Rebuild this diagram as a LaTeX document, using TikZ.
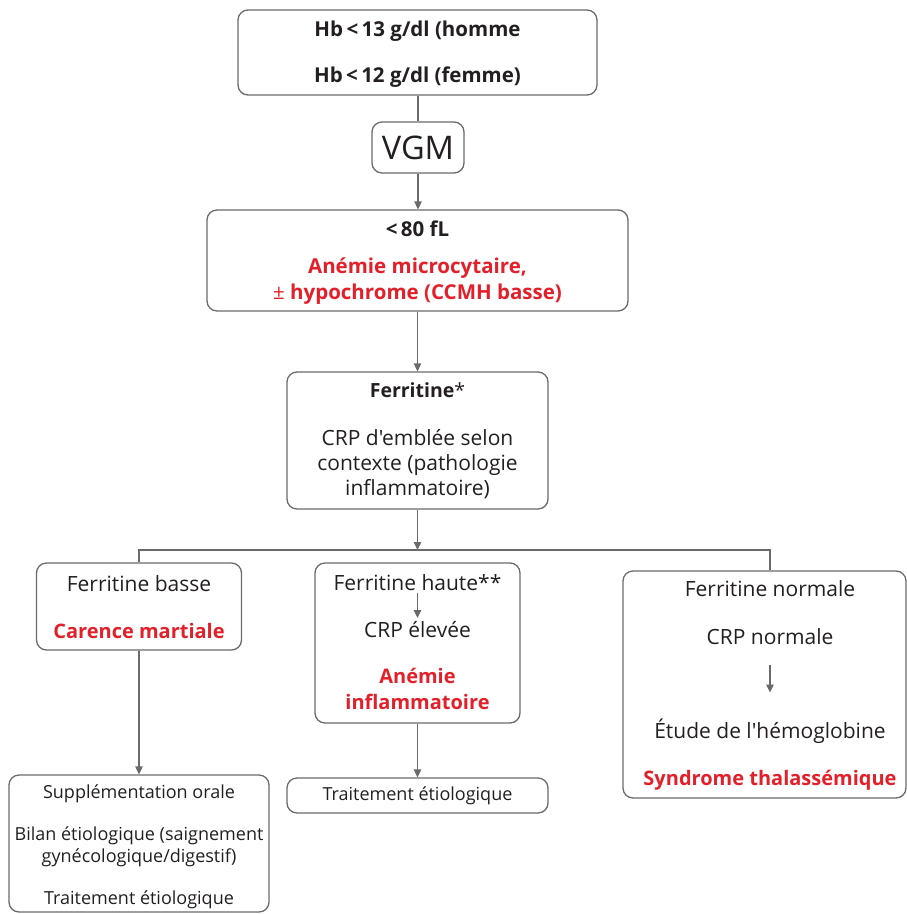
\documentclass[tikz,border=0pt]{standalone}
\usepackage{fontspec}
\setmainfont{Open Sans}[Ligatures=TeXOff]
\usetikzlibrary{arrows.meta}
\definecolor{ink}{HTML}{231F20}
\definecolor{alert}{HTML}{E3202A}
\definecolor{edge}{HTML}{6A6A6A}
\begin{document}
\begin{tikzpicture}[x=1pt,y=-1pt,
  box/.style={draw=edge, line width=1.3pt, rounded corners=10pt, inner sep=0pt},
  txt/.style={anchor=base, inner sep=0pt, text=ink, font=\fontsize{21}{25}\selectfont},
  btxt/.style={txt, font=\fontsize{20.5}{24}\selectfont\bfseries},
  rtxt/.style={btxt, text=alert},
  rbig/.style={rtxt, font=\fontsize{20}{24}\selectfont\bfseries},
  stxt/.style={txt, font=\fontsize{18}{22}\selectfont},
  link/.style={draw=edge, line width=1.3pt},
  arr/.style={link, -{Triangle[length=8pt,width=7.5pt]}}]
\useasboundingbox (0,0) rectangle (907,914);

% top: haemoglobin thresholds
\node[box, minimum width=359pt, minimum height=85pt] (hb) at (417.5,52.5) {};
\node[btxt] (hb1) at (417.5,36) {Hb\,<\,13 g/dl (homme};
\node[btxt] (hb2) at (417.5,82.7) {Hb\,<\,12 g/dl (femme)};

% VGM
\node[box, minimum width=92pt, minimum height=51pt, font=\fontsize{32.5}{36}\selectfont, text=ink] (vgm) at (418,147.5) {VGM};

% microcytosis
\node[box, minimum width=421pt, minimum height=101pt] (micro) at (417.5,260.5) {};
\node[btxt] (m1) at (417.5,236.7) {<\,80 fL};
\node[rtxt] (m2) at (417.5,273) {Anémie microcytaire,};
\node[rtxt] (m3) at (417.5,299) {{\mdseries ±} hypochrome (CCMH basse)};

% ferritin
\node[box, minimum width=261pt, minimum height=137pt] (fer) at (417.5,440.5) {};
\node[txt, font=\fontsize{19.5}{23}\selectfont] (f1) at (417.5,397.7) {\textbf{Ferritine}*};
\node[txt] (f2) at (417.5,445) {CRP d'emblée selon};
\node[txt] (f3) at (417.5,470) {contexte (pathologie};
\node[txt] (f4) at (417.5,495) {inflammatoire)};

% branch: low ferritin
\node[box, minimum width=205pt, minimum height=87pt] (low) at (139,606.5) {};
\node[txt] (l1) at (139,591.7) {Ferritine basse};
\node[rbig] (l2) at (139,638) {Carence martiale};

% branch: high ferritin
\node[box, minimum width=205pt, minimum height=160pt] (high) at (417.5,643) {};
\node[txt] (h1) at (417.5,590.7) {Ferritine haute**};
\node[txt] (h2) at (417.5,637.3) {CRP élevée};
\node[rbig] (h3) at (417.5,683.3) {Anémie};
\node[rbig] (h4) at (417.5,709.3) {inflammatoire};

% branch: normal ferritin
\node[box, minimum width=283pt, minimum height=227pt] (norm) at (764.5,684.5) {};
\node[txt] (n1) at (770,596.7) {Ferritine normale};
\node[txt] (n2) at (770,644) {CRP normale};
\node[txt] (n3) at (770,738.3) {Étude de l'hémoglobine};
\node[rbig] (n4) at (770,785) {Syndrome thalassémique};

% management boxes
\node[box, minimum width=260pt, minimum height=137pt] (care) at (139,843.5) {};
\node[stxt] (c1) at (139,798.3) {Supplémentation orale};
\node[stxt] (c2) at (139,840) {Bilan étiologique (saignement};
\node[stxt] (c3) at (139,862.3) {gynécologique/digestif)};
\node[stxt] (c4) at (139,904) {Traitement étiologique};

\node[box, minimum width=261pt, minimum height=35pt] (treat) at (417.5,795.5) {};
\node[stxt] (t1) at (417.5,800) {Traitement étiologique};

% connectors
\coordinate (split) at (417.5,550);
\coordinate (splitL) at (139,550);
\coordinate (splitR) at (770,550);
\draw[link] (hb.south -| vgm) -- (vgm.north);
\draw[arr] (vgm.south) -- (micro.north -| vgm);
\draw[arr] (micro.south) -- (fer.north);
\draw[arr] (fer.south) -- (split);
\draw[link] (low.north) -- (splitL) -- (splitR) -- (splitR |- norm.north);
\draw[arr] (low.south) -- (care.north);
\draw[arr] (high.south) -- (treat.north);
\draw[arr, shorten <=2pt, shorten >=3pt] (h1) -- (h2);
\draw[arr, shorten <=21pt, shorten >=26pt] (n2) -- (n3);
\end{tikzpicture}
\end{document}
